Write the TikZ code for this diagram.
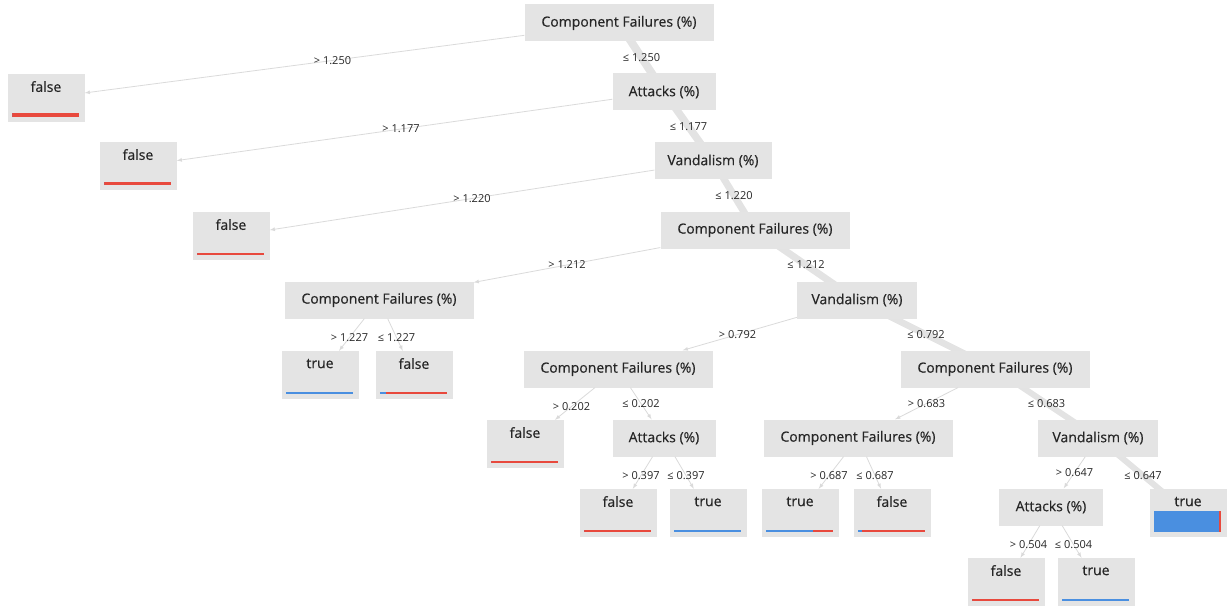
\documentclass[tikz,border=0pt]{standalone}
\usepackage{fontspec}
\setmainfont{Open Sans}
\newfontfamily\nodefont[FakeBold=0.5]{Open Sans}
\usepackage{tikz}
\usetikzlibrary{calc}

\definecolor{boxgray}{HTML}{E4E4E4}
\definecolor{edgegray}{HTML}{DADADA}
\definecolor{bandgray}{HTML}{E3E3E3}
\definecolor{textgray}{HTML}{262626}
\definecolor{barred}{HTML}{E8493D}
\definecolor{barblue}{HTML}{4A8FE0}

\tikzset{
	splitnode/.style={fill=boxgray, rectangle, minimum height=37pt, inner sep=0pt,
		text=textgray, font=\nodefont\fontsize{14}{16}\selectfont},
	leafnode/.style={fill=boxgray, rectangle, minimum width=77pt, minimum height=48pt,
		inner sep=0pt, text=textgray, font=\nodefont\fontsize{14}{16}\selectfont},
	mainedge/.style={bandgray, line width=#1},
	sideedge/.style={->, >=latex, edgegray, line width=0.8pt},
	cutlabel/.style={text=textgray, font=\fontsize{11}{13}\selectfont, inner sep=1pt},
}

% bar at the foot of a leaf: node, share of true, bar height
\newcommand{\leafbar}[3]{
	\pgfmathsetmacro{\bluew}{67*#2}
	\fill[barred] ($(#1.south west)+(5,-5)$) rectangle ($(#1.south west)+(72,-5-#3)$);
	\fill[barblue] ($(#1.south west)+(5,-5)$) rectangle ($(#1.south west)+(5+\bluew,-5-#3)$);
}

\begin{document}
\begin{tikzpicture}[x=1pt, y=-1pt]
	\useasboundingbox (0,0) rectangle (1227,607);

	% the main path first, below the boxes
	\coordinate (pRoot) at (619,23);
	\coordinate (pAtt)  at (664,92);
	\coordinate (pVan)  at (713,161);
	\coordinate (pCf)   at (755,230);
	\coordinate (pVanB) at (857,300);
	\coordinate (pCfB)  at (995,369);
	\coordinate (pVanC) at (1098,438);
	\coordinate (pTrue) at (1188,513);
	\draw[mainedge=8pt]   (pRoot) -- (pAtt);
	\draw[mainedge=7.5pt] (pAtt) -- (pVan);
	\draw[mainedge=7pt]   (pVan) -- (pCf);
	\draw[mainedge=7pt]   (pCf) -- (pVanB);
	\draw[mainedge=6.5pt] (pVanB) -- (pCfB);
	\draw[mainedge=6pt]   (pCfB) -- (pVanC);
	\draw[mainedge=6pt]   (pVanC) -- (pTrue);

	\node[splitnode, minimum width=189pt] (root) at (pRoot)  {Component Failures (\%)};
	\node[splitnode, minimum width=103pt] (attA) at (pAtt)   {Attacks (\%)};
	\node[splitnode, minimum width=117pt] (vanA) at (pVan)   {Vandalism (\%)};
	\node[splitnode, minimum width=189pt] (cfA)  at (pCf)    {Component Failures (\%)};
	\node[splitnode, minimum width=189pt] (cfB)  at (379,300) {Component Failures (\%)};
	\node[splitnode, minimum width=120pt] (vanB) at (pVanB)  {Vandalism (\%)};
	\node[splitnode, minimum width=189pt] (cfC)  at (618,369) {Component Failures (\%)};
	\node[splitnode, minimum width=189pt] (cfD)  at (pCfB)   {Component Failures (\%)};
	\node[splitnode, minimum width=103pt] (attB) at (664,438) {Attacks (\%)};
	\node[splitnode, minimum width=189pt] (cfE)  at (858,438) {Component Failures (\%)};
	\node[splitnode, minimum width=120pt] (vanC) at (pVanC)  {Vandalism (\%)};
	\node[splitnode, minimum width=104pt] (attC) at (1051,507) {Attacks (\%)};

	\node[leafnode] (leafA) at (46,98)    {\raisebox{23pt}{false}};
	\node[leafnode] (leafB) at (138,166)  {\raisebox{23pt}{false}};
	\node[leafnode] (leafC) at (231,236)  {\raisebox{23pt}{false}};
	\node[leafnode] (leafD) at (320,375)  {\raisebox{23pt}{true}};
	\node[leafnode] (leafE) at (414,375)  {\raisebox{23pt}{false}};
	\node[leafnode] (leafF) at (525,444)  {\raisebox{23pt}{false}};
	\node[leafnode] (leafG) at (618,513)  {\raisebox{23pt}{false}};
	\node[leafnode] (leafH) at (708,513)  {\raisebox{23pt}{true}};
	\node[leafnode] (leafI) at (800,513)  {\raisebox{23pt}{true}};
	\node[leafnode] (leafJ) at (892,513)  {\raisebox{23pt}{false}};
	\node[leafnode] (leafK) at (pTrue)    {\raisebox{23pt}{true}};
	\node[leafnode] (leafL) at (1006,582) {\raisebox{23pt}{false}};
	\node[leafnode] (leafM) at (1096,582) {\raisebox{23pt}{true}};

	\leafbar{leafA}{0}{4}
	\leafbar{leafB}{0}{3}
	\leafbar{leafC}{0}{2}
	\leafbar{leafD}{1}{2}
	\leafbar{leafE}{0.08}{2}
	\leafbar{leafF}{0}{2}
	\leafbar{leafG}{0}{2}
	\leafbar{leafH}{1}{2}
	\leafbar{leafI}{0.7}{2}
	\leafbar{leafJ}{0.05}{2}
	\leafbar{leafK}{0.97}{21}
	\leafbar{leafL}{0}{2}
	\leafbar{leafM}{1}{2}

	% side branches
	\draw[sideedge] (root) -- (leafA);
	\draw[sideedge] (attA) -- (leafB);
	\draw[sideedge] (vanA) -- (leafC);
	\draw[sideedge] (cfA) -- (cfB);
	\draw[sideedge] (cfB) -- (leafD);
	\draw[sideedge] (cfB) -- (leafE);
	\draw[sideedge] (vanB) -- (cfC);
	\draw[sideedge] (cfC) -- (leafF);
	\draw[sideedge] (cfC) -- (attB);
	\draw[sideedge] (attB) -- (leafG);
	\draw[sideedge] (attB) -- (leafH);
	\draw[sideedge] (cfD) -- (cfE);
	\draw[sideedge] (cfE) -- (leafI);
	\draw[sideedge] (cfE) -- (leafJ);
	\draw[sideedge] (vanC) -- (attC);
	\draw[sideedge] (attC) -- (leafL);
	\draw[sideedge] (attC) -- (leafM);

	% thresholds, halfway between the centres
	\node[cutlabel] (cutA)  at ($(root)!0.5!(leafA)$) {> 1.250};
	\node[cutlabel] (cutB)  at ($(root)!0.5!(attA)$)  {≤ 1.250};
	\node[cutlabel] (cutC)  at ($(attA)!0.5!(leafB)$) {> 1.177};
	\node[cutlabel] (cutD)  at ($(attA)!0.5!(vanA)$)  {≤ 1.177};
	\node[cutlabel] (cutE)  at ($(vanA)!0.5!(leafC)$) {> 1.220};
	\node[cutlabel] (cutF)  at ($(vanA)!0.5!(cfA)$)   {≤ 1.220};
	\node[cutlabel] (cutG)  at ($(cfA)!0.5!(cfB)$)    {> 1.212};
	\node[cutlabel] (cutH)  at ($(cfA)!0.5!(vanB)$)   {≤ 1.212};
	\node[cutlabel] (cutI)  at ($(cfB)!0.5!(leafD)$)  {> 1.227};
	\node[cutlabel] (cutJ)  at ($(cfB)!0.5!(leafE)$)  {≤ 1.227};
	\node[cutlabel] (cutK)  at ($(vanB)!0.5!(cfC)$)   {> 0.792};
	\node[cutlabel] (cutL)  at ($(vanB)!0.5!(cfD)$)   {≤ 0.792};
	\node[cutlabel] (cutM)  at ($(cfC)!0.5!(leafF)$)  {> 0.202};
	\node[cutlabel] (cutN)  at ($(cfC)!0.5!(attB)$)   {≤ 0.202};
	\node[cutlabel] (cutO)  at ($(cfD)!0.5!(cfE)$)    {> 0.683};
	\node[cutlabel] (cutP)  at ($(cfD)!0.5!(vanC)$)   {≤ 0.683};
	\node[cutlabel] (cutQ)  at ($(attB)!0.5!(leafG)$) {> 0.397};
	\node[cutlabel] (cutR)  at ($(attB)!0.5!(leafH)$) {≤ 0.397};
	\node[cutlabel] (cutS)  at ($(cfE)!0.5!(leafI)$)  {> 0.687};
	\node[cutlabel] (cutT)  at ($(cfE)!0.5!(leafJ)$)  {≤ 0.687};
	\node[cutlabel] (cutU)  at ($(vanC)!0.5!(attC)$)  {> 0.647};
	\node[cutlabel] (cutV)  at ($(vanC)!0.5!(leafK)$) {≤ 0.647};
	\node[cutlabel] (cutW)  at ($(attC)!0.5!(leafL)$) {> 0.504};
	\node[cutlabel] (cutX)  at ($(attC)!0.5!(leafM)$) {≤ 0.504};
\end{tikzpicture}
\end{document}
